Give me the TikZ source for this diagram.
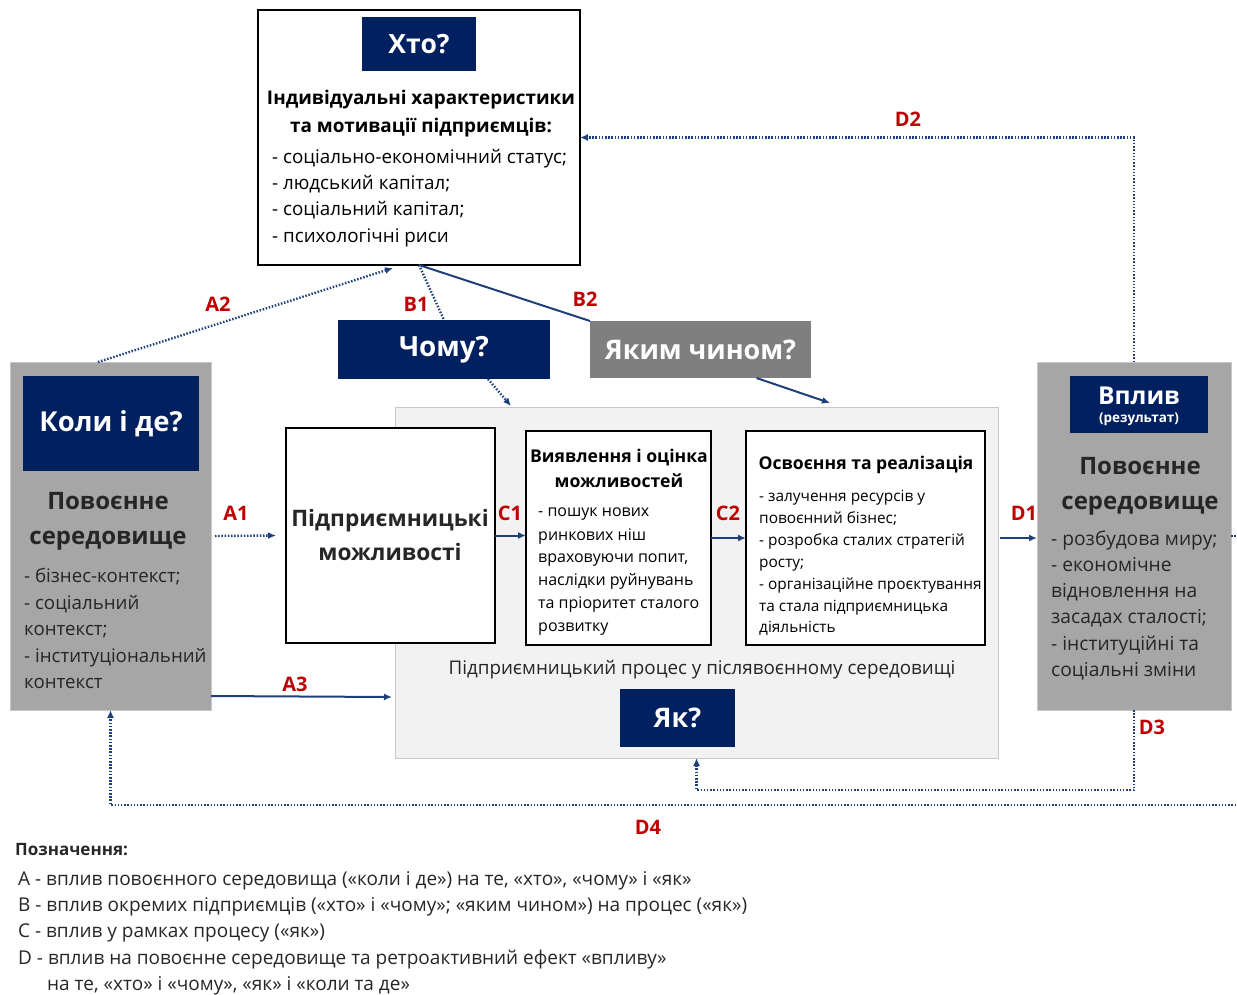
\documentclass[tikz,border=0pt]{standalone}
\usepackage{fontspec}
\setmainfont{Open Sans}
\usetikzlibrary{arrows.meta,calc}
\definecolor{navy}{HTML}{002060}
\definecolor{lnblue}{HTML}{1F3F7A}
\definecolor{gbox}{HTML}{A6A6A6}
\definecolor{gdark}{HTML}{7F7F7F}
\definecolor{procbg}{HTML}{F2F2F2}
\definecolor{procbd}{HTML}{C8C8C8}
\definecolor{lblred}{HTML}{C00000}
\definecolor{txt}{HTML}{262626}
\newcommand{\fs}[2]{\fontsize{#1}{#2}\selectfont}
\begin{document}
\begin{tikzpicture}[x=1pt,y=-1pt,
  wbox/.style={draw=black, line width=1.3pt, fill=white, inner sep=0pt, outer sep=0pt, anchor=north west},
  greybox/.style={draw=procbd, line width=1pt, fill=gbox, inner sep=0pt, outer sep=0pt, anchor=north west},
  qbox/.style={fill=navy, text=white, inner sep=0pt, outer sep=0pt, anchor=north west, align=center},
  tl/.style={anchor=base west, inner sep=0pt, text=black},
  tc/.style={anchor=base, inner sep=0pt, text=black},
  lbl/.style={text=lblred, font=\bfseries\fs{20}{22}, inner sep=0pt},
  dotline/.style={draw=lnblue, line width=2.4pt, dash pattern=on 1.5pt off 1.7pt},
  solidline/.style={draw=lnblue, line width=2pt},
  tip/.style={-{Latex[length=8pt,width=7pt]}}
]
\useasboundingbox (0,0) rectangle (1237,994);

% ---------- process background ----------
\node[draw=procbd, fill=procbg, line width=1pt, inner sep=0pt, outer sep=0pt, anchor=north west,
      minimum width=603, minimum height=351] (proc) at (395,407) {};

% ---------- top box (who) ----------
\node[wbox, minimum width=322, minimum height=255] (who) at (258,10) {};
\node[qbox, minimum width=114, minimum height=54, font=\bfseries\fs{26.5}{30}] (whoq) at (362,17) {Хто?};
\node[tc, font=\bfseries\fs{18.9}{22}] (whot1) at (421,104) {Індивідуальні характеристики};
\node[tc, font=\bfseries\fs{18.9}{22}] (whot2) at (421,132) {та мотивації підприємців:};
\node[tl, font=\fs{18.8}{26}] (whol1) at (272,163) {- соціально-економічний статус;};
\node[tl, font=\fs{18.8}{26}] (whol2) at (272,189) {- людський капітал;};
\node[tl, font=\fs{18.8}{26}] (whol3) at (272,215) {- соціальний капітал;};
\node[tl, font=\fs{18.8}{26}] (whol4) at (272,242) {- психологічні риси};

% ---------- left box (when) ----------
\node[greybox, minimum width=201, minimum height=348] (when) at (10,362) {};
\node[qbox, minimum width=176, minimum height=95, font=\bfseries\fs{27.5}{32}] (whenq) at (23,376) {Коли і де?};
\node[tc, text=txt, font=\bfseries\fs{24}{28}] (whent1) at (108,509) {Повоєнне};
\node[tc, text=txt, font=\bfseries\fs{24}{28}] (whent2) at (108,544) {середовище};
\node[tl, text=txt, font=\fs{18.7}{26}] (whenl1) at (24,582) {- бізнес-контекст;};
\node[tl, text=txt, font=\fs{18.7}{26}] (whenl2) at (24,609) {- соціальний};
\node[tl, text=txt, font=\fs{18.7}{26}] (whenl3) at (24,635) {контекст;};
\node[tl, text=txt, font=\fs{18.7}{26}] (whenl4) at (24,662) {- інституціональний};
\node[tl, text=txt, font=\fs{18.7}{26}] (whenl5) at (24,688) {контекст};

% ---------- right box (impact) ----------
\node[greybox, minimum width=194, minimum height=348] (impact) at (1037,362) {};
\node[qbox, minimum width=138, minimum height=57] (impq) at (1070,376) {};
\node[tc, text=white, font=\bfseries\fs{24.6}{28}] (impq1) at (1139,404) {Вплив};
\node[tc, text=white, font=\bfseries\fs{13.5}{16}] (impq2) at (1139,422) {(результат)};
\node[tc, text=txt, font=\bfseries\fs{24}{28}] (impt1) at (1140,474) {Повоєнне};
\node[tc, text=txt, font=\bfseries\fs{24}{28}] (impt2) at (1140,509) {середовище};
\node[tl, text=txt, font=\fs{19.2}{26}] (impl1) at (1051,545) {- розбудова миру;};
\node[tl, text=txt, font=\fs{19.2}{26}] (impl2) at (1051,571) {- економічне};
\node[tl, text=txt, font=\fs{19.2}{26}] (impl3) at (1051,597) {відновлення на};
\node[tl, text=txt, font=\fs{19.2}{26}] (impl4) at (1051,623) {засадах сталості;};
\node[tl, text=txt, font=\fs{19.2}{26}] (impl5) at (1051,650) {- інституційні та};
\node[tl, text=txt, font=\fs{19.2}{26}] (impl6) at (1051,676) {соціальні зміни};

% ---------- why / how-way ----------
\node[qbox, minimum width=212, minimum height=59, font=\bfseries\fs{27.8}{30}] (why) at (338,320) {Чому?};
\node[qbox, fill=gdark, minimum width=221, minimum height=57, font=\bfseries\fs{27}{30}] (howway) at (590,321) {Яким чином?};

% ---------- process boxes ----------
\node[wbox, minimum width=209, minimum height=215] (opp) at (286,428) {};
\node[tc, text=txt, font=\bfseries\fs{22.7}{26}] (oppt1) at (390,526) {Підприємницькі};
\node[tc, text=txt, font=\bfseries\fs{22.7}{26}] (oppt2) at (390,560) {можливості};

\node[wbox, minimum width=185, minimum height=214] (ident) at (526,431) {};
\node[tc, font=\bfseries\fs{17.6}{20}] (identt1) at (619,462) {Виявлення і оцінка};
\node[tc, font=\bfseries\fs{17.6}{20}] (identt2) at (619,487) {можливостей};
\node[tl, font=\fs{16}{23}] (identl1) at (538,516) {- пошук нових};
\node[tl, font=\fs{16}{23}] (identl2) at (538,540) {ринкових ніш};
\node[tl, font=\fs{16}{23}] (identl3) at (538,562) {враховуючи попит,};
\node[tl, font=\fs{16}{23}] (identl4) at (538,585) {наслідки руйнувань};
\node[tl, font=\fs{16}{23}] (identl5) at (538,608) {та пріоритет сталого};
\node[tl, font=\fs{16}{23}] (identl6) at (538,631) {розвитку};

\node[wbox, minimum width=239, minimum height=214] (real) at (746,431) {};
\node[tc, font=\bfseries\fs{17.6}{20}] (realt1) at (866,469) {Освоєння та реалізація};
\node[tl, font=\fs{15.4}{22}] (reall1) at (759,501) {- залучення ресурсів у};
\node[tl, font=\fs{15.4}{22}] (reall2) at (759,523) {повоєнний бізнес;};
\node[tl, font=\fs{15.4}{22}] (reall3) at (759,545) {- розробка сталих стратегій};
\node[tl, font=\fs{15.4}{22}] (reall4) at (759,567) {росту;};
\node[tl, font=\fs{15.4}{22}] (reall5) at (759,589) {- організаційне проєктування};
\node[tl, font=\fs{15.4}{22}] (reall6) at (759,611) {та стала підприємницька};
\node[tl, font=\fs{15.4}{22}] (reall7) at (759,632) {діяльність};

\node[tc, text=txt, font=\fs{18.8}{20}] (proct) at (702,674) {Підприємницький процес у післявоєнному середовищі};
\node[qbox, minimum width=115, minimum height=58, font=\bfseries\fs{27}{28}] (how) at (620,689) {Як?};

% ---------- connectors ----------
\coordinate (a2s) at ($(when.north west)+(88,0)$);
\coordinate (a2e) at ($(who.south)+(-26,3)$);
\draw[dotline, tip] (a2s) -- (a2e);

\draw[dotline] (who.south) -- (why.north);
\coordinate (b1s) at ($(why.south)+(44,0)$);
\coordinate (b1e) at ($(proc.north west)+(116,-1)$);
\draw[dotline, tip] (b1s) -- (b1e);

\draw[solidline] (who.south) -- (howway.north west);
\coordinate (b2s) at ($(howway.south)+(56,0)$);
\coordinate (b2e) at ($(proc.north west)+(435,-4)$);
\draw[solidline, tip] (b2s) -- (b2e);

\coordinate (a1s) at ($(when.east)+(4,0)$);
\coordinate (a1e) at ($(opp.west)+(-10,0)$);
\draw[dotline, tip] (a1s) -- (a1e);

\coordinate (a3s) at ($(when.south east)+(0,-14)$);
\coordinate (a3e) at ($(proc.south west)+(-3,-61)$);
\draw[solidline, tip] (a3s) -- (a3e);

\draw[solidline, tip] (opp.east) -- (opp.east -| ident.west);
\draw[solidline, tip] (ident.east) -- (ident.east -| real.west);
\coordinate (d1s) at ($(proc.east)+(2,0)$);
\draw[solidline, tip] (d1s |- ident.east) -- (ident.east -| impact.west);

\draw[dotline, tip] (impact.north) |- (who.east);
\draw[dotline, tip] (impact.south) -- ++(0,80) -| (proc.south);
\draw[dotline, tip] (impact.east) -- ++(12,0) -- ++(0,269) -| (when.south);

% ---------- labels ----------
\node[lbl] (la2) at (218,304) {A2};
\node[lbl] (lb1) at (416,304) {B1};
\node[lbl] (lb2) at (585,299) {B2};
\node[lbl] (la1) at (236,513) {A1};
\node[lbl] (la3) at (295,684) {A3};
\node[lbl] (lc1) at (510,513) {C1};
\node[lbl] (lc2) at (728,513) {C2};
\node[lbl] (ld1) at (1024,513) {D1};
\node[lbl] (ld2) at (908,119) {D2};
\node[lbl] (ld3) at (1152,727) {D3};
\node[lbl] (ld4) at (648,827) {D4};

% ---------- legend ----------
\node[tl, text=txt, font=\bfseries\fs{17}{20}] (leg0) at (15,855) {Позначення:};
\node[tl, text=txt, font=\fs{19}{26}] (leg1) at (18,885) {A - вплив повоєнного середовища («коли і де») на те, «хто», «чому» і «як»};
\node[tl, text=txt, font=\fs{19}{26}] (leg2) at (18,911) {B - вплив окремих підприємців («хто» і «чому»; «яким чином») на процес («як»)};
\node[tl, text=txt, font=\fs{19}{26}] (leg3) at (18,937) {C - вплив у рамках процесу («як»)};
\node[tl, text=txt, font=\fs{19}{26}] (leg4) at (18,964) {D - вплив на повоєнне середовище та ретроактивний ефект «впливу»};
\node[tl, text=txt, font=\fs{19}{26}] (leg5) at (47,990) {на те, «хто» і «чому», «як» і «коли та де»};
\end{tikzpicture}
\end{document}
